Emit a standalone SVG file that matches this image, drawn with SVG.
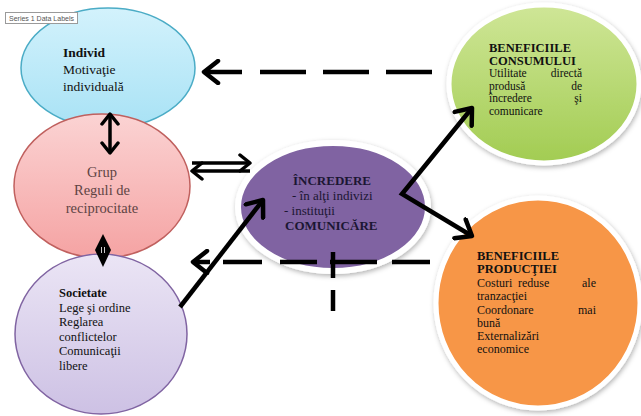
<svg xmlns="http://www.w3.org/2000/svg" width="641" height="416" viewBox="0 0 641 416">
<style>
.t{font-family:"Liberation Serif","Times New Roman",serif;fill:#111;}
.b{font-weight:bold;}
.conn{fill:none;stroke:#000;stroke-width:4.5;stroke-linecap:butt;}
.thin{stroke-width:3.5;}
</style>
<defs>
<linearGradient id="gBlue" x1="0" y1="0" x2="0" y2="1"><stop offset="0" stop-color="#d3f2fc"/><stop offset="1" stop-color="#a8e2f5"/></linearGradient>
<linearGradient id="gPink" x1="0" y1="0" x2="0" y2="1"><stop offset="0" stop-color="#fbd3d3"/><stop offset="1" stop-color="#f5a3a3"/></linearGradient>
<linearGradient id="gLav" x1="0" y1="0" x2="0" y2="1"><stop offset="0" stop-color="#ebe5f5"/><stop offset="1" stop-color="#cdc1e4"/></linearGradient>
<linearGradient id="gGreen" x1="0" y1="0" x2="0" y2="1"><stop offset="0" stop-color="#cfe697"/><stop offset="1" stop-color="#a2cc52"/></linearGradient>
<filter id="sh" x="-20%" y="-20%" width="140%" height="140%"><feDropShadow dx="1" dy="2" stdDeviation="2.5" flood-color="#000" flood-opacity="0.3"/></filter>
<marker id="ah" markerUnits="userSpaceOnUse" viewBox="-18 -13 21 26" refX="0" refY="0" markerWidth="21" markerHeight="26" orient="auto-start-reverse">
<path d="M-14,-11 L0,0 L-14,11" fill="none" stroke="#000" stroke-width="4.5" stroke-linejoin="round" stroke-linecap="round" stroke-dasharray="none"/>
</marker>
<marker id="as" markerUnits="userSpaceOnUse" viewBox="-13 -10 16 20" refX="0" refY="0" markerWidth="16" markerHeight="20" orient="auto-start-reverse">
<path d="M-10,-8 L0,0 L-10,8" fill="none" stroke="#000" stroke-width="3.5" stroke-linejoin="round" stroke-linecap="round" stroke-dasharray="none"/>
</marker>
</defs>
<rect width="641" height="416" fill="#fff"/>

<g id="individ">
<ellipse cx="108" cy="68" rx="87" ry="60" fill="url(#gBlue)" stroke="#4bacc6" stroke-width="1.5"/>
<text class="t" font-size="13.5"><tspan class="b" x="63" y="57">Individ</tspan><tspan x="63" y="74">Motivaţie</tspan><tspan x="63" y="91">individuală</tspan></text>
</g>

<g id="grup">
<ellipse cx="102" cy="186" rx="88" ry="72" fill="url(#gPink)" stroke="#c0605e" stroke-width="1.5"/>
<text class="t" font-size="14.5" text-anchor="middle" style="fill:#5e4444"><tspan x="102" y="177">Grup</tspan><tspan x="102" y="195">Reguli de</tspan><tspan x="102" y="213">reciprocitate</tspan></text>
</g>

<g id="societate">
<ellipse cx="101" cy="334" rx="86" ry="80" fill="url(#gLav)" stroke="#8064a2" stroke-width="1.5"/>
<text class="t" font-size="12.5"><tspan class="b" x="59" y="297">Societate</tspan><tspan x="59" y="311.5">Lege şi ordine</tspan><tspan x="59" y="326">Reglarea</tspan><tspan x="59" y="340.5">conflictelor</tspan><tspan x="59" y="355">Comunicaţii</tspan><tspan x="59" y="369.5">libere</tspan></text>
</g>

<g id="incredere">
<ellipse cx="333" cy="207" rx="95" ry="64" fill="#8064a2" stroke="#fff" stroke-width="6" filter="url(#sh)"/>
<text class="t" font-size="13" style="fill:#1c1633"><tspan class="b" x="293" y="185">ÎNCREDERE</tspan><tspan x="292" y="200">- în alţi indivizi</tspan><tspan x="284" y="215">- instituţii</tspan><tspan class="b" x="285" y="230">COMUNICĂRE</tspan></text>
</g>

<g id="consum">
<ellipse cx="544" cy="84" rx="95" ry="79" fill="url(#gGreen)" stroke="#fff" stroke-width="5" filter="url(#sh)"/>
<text class="t" font-size="11.5"><tspan class="b" font-size="12.5" x="489" y="52">BENEFICIILE</tspan><tspan class="b" font-size="12.5" x="489" y="64.5">CONSUMULUI</tspan><tspan x="489" y="77">Utilitate</tspan><tspan x="582" y="77" text-anchor="end">directă</tspan><tspan x="489" y="89.5">produsă</tspan><tspan x="582" y="89.5" text-anchor="end">de</tspan><tspan x="489" y="102">încredere</tspan><tspan x="582" y="102" text-anchor="end">şi</tspan><tspan x="489" y="114.5">comunicare</tspan></text>
</g>

<g id="productie">
<ellipse cx="538" cy="303" rx="102" ry="105" fill="#f79646" stroke="#fff" stroke-width="5" filter="url(#sh)"/>
<text class="t" font-size="12"><tspan class="b" font-size="12.5" x="477" y="260">BENEFICIILE</tspan><tspan class="b" font-size="12.5" x="477" y="273">PRODUCŢIEI</tspan><tspan x="477" y="287">Costuri</tspan><tspan x="518" y="287">reduse</tspan><tspan x="596" y="287" text-anchor="end">ale</tspan><tspan x="477" y="300">tranzacţiei</tspan><tspan x="477" y="314">Coordonare</tspan><tspan x="596" y="314" text-anchor="end">mai</tspan><tspan x="477" y="327">bună</tspan><tspan x="477" y="340">Externalizări</tspan><tspan x="477" y="353">economice</tspan></text>
</g>

<g id="label">
<rect x="5.5" y="12.5" width="72" height="11" fill="#fff" stroke="#9a9a9a" stroke-width="1"/>
<text x="9" y="21" font-family="Liberation Sans, Arial, sans-serif" font-size="7" fill="#555">Series 1 Data Labels</text>
</g>

<g id="connectors">
<path class="conn" d="M432,72 L260,72" stroke-dasharray="46 17"/>
<path class="conn" d="M242,72 L204,72" marker-end="url(#ah)"/>
<path class="conn" d="M223,262 H262 M280,262 H317 M330,262 H377 M392,262 H430"/>
<path class="conn" d="M210,262 L193,262" marker-end="url(#ah)"/>
<path class="conn" d="M333,252 V278 M333,290 V311"/>
<path class="conn thin" d="M110,114 L110,153" marker-start="url(#as)" marker-end="url(#as)"/>
<polygon points="103,234 111,250 103,267 95,250" fill="#000"/>
<path d="M101.5,247 V253 M104.5,247 V253" fill="none" stroke="#fff" stroke-width="0.8"/>
<path class="conn thin" d="M192,163 L250,163" marker-end="url(#as)"/>
<path class="conn thin" d="M250,171 L192,171" marker-end="url(#as)"/>
<path class="conn" d="M180,307 L263,200" marker-end="url(#ah)"/>
<path class="conn" d="M472,108 L402,194 L472,236" marker-start="url(#ah)" marker-end="url(#ah)"/>
</g>
</svg>
